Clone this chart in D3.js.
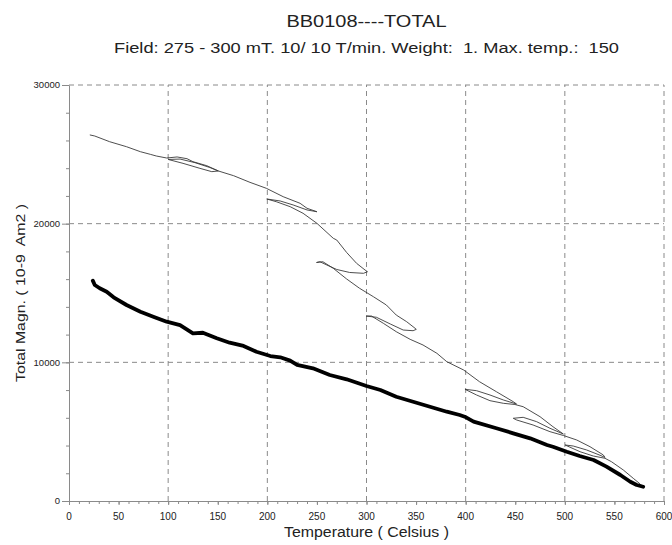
<!DOCTYPE html>
<html><head><meta charset="utf-8">
<script src="https://cdn.jsdelivr.net/npm/d3@7"></script>
<style>
body{margin:0;background:#fff}
svg{display:block}
text{font-family:"Liberation Sans",Arial,Helvetica,sans-serif;fill:#222;white-space:pre}
</style>
</head><body>
<svg id="c" width="672" height="545"></svg>
<script>
// ---- text ----
const titleText = "BB0108----TOTAL";
const subtitleText = "Field: 275 - 300 mT. 10/ 10 T/min. Weight:  1. Max. temp.:  150";
const xTitle = "Temperature ( Celsius )";
const yTitle = "Total Magn. ( 10-9  Am2 )";

// ---- ticks ----
const xLabelTicks = [0,50,100,150,200,250,300,350,400,450,500,550,600];
const xGridTicks = [100,200,300,400,500,600];
const yLabelTicks = [0,10000,20000,30000];
const yGridTicks = [10000,20000,30000];

// ---- thin curve (heating/cooling cycles) ----
const thinTemp = [21,26,41,58,72,82,88,98.5,
  109,119,125,139,150.6, 144,132,115,100, 112,127,142,150.6,
  166,182.5,199,216,233,240,250, 240,226,213,199.4,
  209,223,236,250,266.5,270,280,290,298.5,301,
  297,283,270,260,253,249.6,
  256,266.5,280,293,307,320,330,340.5,349,350.2,
  347,337,324,310,299.5,
  305,317,330,344,357,371,381,398,414,431,448,451.3,
  438,424.5,411,399.3,
  411,424.5,438,449.7,
  458,475,488,498.5,
  485,471.6,458,448,
  451.5,468,485,498.5,
  512,525.4,538.8,540.5,
  535.5,522,508.5,500.2,
  515.3,528.7,540.5,
  547,559,569,576,579];
const thinMagn = [26400,26320,25910,25550,25190,25000,24880,24735,
  24810,24685,24470,24180,23800, 23750,23990,24350,24630, 24660,24400,24050,23800,
  23460,22980,22550,21945,21470,21110,20860, 20990,21350,21635,21780,
  21585,21225,20750,20025,18945,18820,17920,17140,16660,16535,
  16420,16480,16695,17020,17255,17200,
  17255,16780,16010,15340,14730,14135,13410,12930,12455,12380,
  12280,12330,12765,13250,13340,
  13340,12815,12210,11660,11250,10650,10045,9445,8600,7880,7160,6995,
  7285,7645,7955,8055,
  7645,7235,7045,6960,
  6800,6080,5360,4830,
  5245,5720,6035,5965,
  5840,5480,5000,4725,
  4400,3915,3320,3140,
  3300,3680,3965,4040,
  3555,3245,3080,
  2835,2235,1635,1225,1010];

// ---- thick curve ----
const thickTemp = [24,26,31,38,45,58,72,85,98.5,112,125,135,149,162,176,189,203,213,223,230,246,263,280,300,314,330,347,364,381,394,399,408,431,448,465,482,488,502,515,529,542,556,566,572.5,579];
const thickMagn = [15890,15580,15340,15095,14690,14135,13650,13290,12930,12690,12095,12135,11735,11415,11180,10765,10455,10365,10120,9810,9570,9085,8775,8295,8005,7520,7160,6800,6440,6200,6080,5720,5245,4880,4520,4040,3915,3555,3245,2955,2475,1875,1390,1155,1030];

const svg = d3.select("#c");
const x = d3.scaleLinear().domain([0,600]).range([69,664]);
const y = d3.scaleLinear().domain([0,30000]).range([501,85]);

const gridCol = "#8a8a8a", axisCol = "#8a8a8a";

// grid
svg.append("g").selectAll("line").data(xGridTicks).join("line")
  .attr("x1",d=>x(d)).attr("x2",d=>x(d)).attr("y1",y(0)).attr("y2",y(30000))
  .attr("stroke",gridCol).attr("stroke-width",1).attr("stroke-dasharray","5,4");
svg.append("g").selectAll("line").data(yGridTicks).join("line")
  .attr("x1",x(0)).attr("x2",x(600)).attr("y1",d=>y(d)).attr("y2",d=>y(d))
  .attr("stroke",gridCol).attr("stroke-width",1).attr("stroke-dasharray","5,4");

// axes
function styleAxis(g){ g.selectAll("path,line").attr("stroke",axisCol); g.selectAll("text").remove(); }
svg.append("g").attr("transform",`translate(0,${y(0)})`)
  .call(d3.axisBottom(x).tickValues(d3.range(0,601,10)).tickSize(3).tickSizeOuter(0).tickFormat(""))
  .call(styleAxis);
svg.append("g").attr("transform",`translate(0,${y(0)})`)
  .call(d3.axisBottom(x).tickValues(xLabelTicks).tickSize(4).tickSizeOuter(0).tickFormat(""))
  .call(styleAxis).select(".domain").remove();
svg.append("g").attr("transform",`translate(${x(0)},0)`)
  .call(d3.axisLeft(y).tickValues(d3.range(0,30001,2000)).tickSize(3).tickSizeOuter(0).tickFormat(""))
  .call(styleAxis);
svg.append("g").attr("transform",`translate(${x(0)},0)`)
  .call(d3.axisLeft(y).tickValues(yLabelTicks).tickSize(7).tickSizeOuter(0).tickFormat(""))
  .call(styleAxis).select(".domain").remove();

// tick labels
svg.append("g").selectAll("text").data(xLabelTicks).join("text")
  .attr("x",d=>x(d)).attr("y",519.5)
  .attr("text-anchor","middle").attr("font-size",10).text(d=>d);
svg.append("g").selectAll("text").data(yLabelTicks).join("text")
  .attr("x",60).attr("y",d=>y(d)).attr("dy","0.35em")
  .attr("text-anchor","end").attr("font-size",9.5).text(d=>d);

// curves
const line = d3.line().x(d=>x(d[0])).y(d=>y(d[1]));
svg.append("path").datum(thinTemp.map((t,i)=>[t,thinMagn[i]]))
  .attr("d",line).attr("fill","none").attr("stroke","#3a3a3a").attr("stroke-width",0.9)
  .attr("stroke-linejoin","round");
svg.append("path").datum(thickTemp.map((t,i)=>[t,thickMagn[i]]))
  .attr("d",line).attr("fill","none").attr("stroke","#000").attr("stroke-width",3.8)
  .attr("stroke-linejoin","round").attr("stroke-linecap","round");

// titles
const cx = (x(0)+x(600))/2;
svg.append("text").attr("x",cx).attr("y",27).attr("text-anchor","middle").attr("font-size",16)
  .attr("textLength",160).attr("lengthAdjust","spacingAndGlyphs").text(titleText);
svg.append("text").attr("x",cx).attr("y",53).attr("text-anchor","middle").attr("font-size",14)
  .attr("textLength",505).attr("lengthAdjust","spacingAndGlyphs").text(subtitleText);
svg.append("text").attr("x",cx).attr("y",537).attr("text-anchor","middle").attr("font-size",14)
  .attr("textLength",165).attr("lengthAdjust","spacingAndGlyphs").text(xTitle);
svg.append("text").attr("transform",`translate(25,293) rotate(-90)`).attr("text-anchor","middle").attr("font-size",13)
  .attr("textLength",178).attr("lengthAdjust","spacingAndGlyphs").text(yTitle);
</script>
</body></html>
